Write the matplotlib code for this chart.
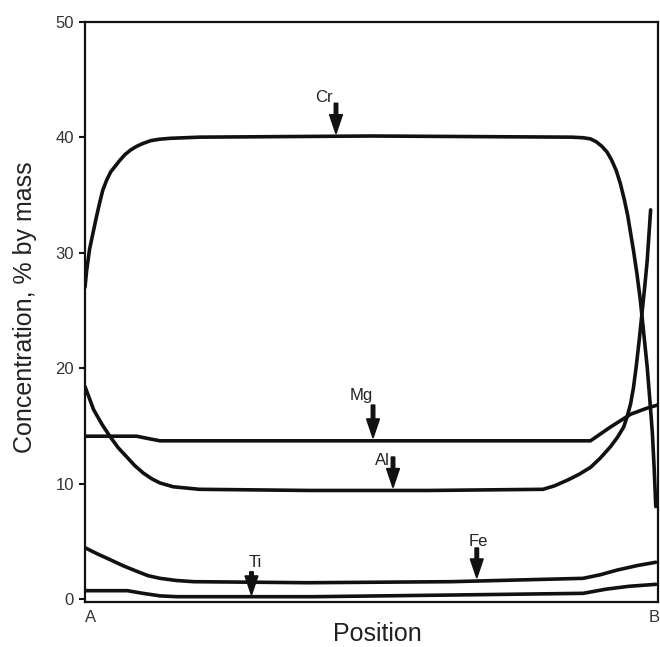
import matplotlib
matplotlib.use("Agg")
import matplotlib.pyplot as plt

plt.rcParams['font.family'] = ['Liberation Sans', 'DejaVu Sans']

# Position from A (0) to B (1); concentrations in % by mass
cr_x = [0.0, 0.003, 0.008, 0.014, 0.02, 0.026, 0.031, 0.038, 0.045, 0.053, 0.061, 0.07, 0.08,
        0.09, 0.101, 0.115, 0.13, 0.149, 0.2, 0.5, 0.85, 0.87, 0.883, 0.893, 0.903, 0.912,
        0.92, 0.928, 0.935, 0.942, 0.948, 0.953, 0.958, 0.964, 0.970, 0.976, 0.982, 0.987,
        0.991, 0.994, 0.997]
cr_y = [27.0, 28.5, 30.3, 31.7, 33.1, 34.4, 35.4, 36.3, 37.0, 37.5, 38.0, 38.5, 38.9,
        39.2, 39.45, 39.7, 39.82, 39.9, 40.0, 40.1, 40.0, 39.95, 39.85, 39.6, 39.2, 38.7,
        38.0, 37.1, 36.0, 34.6, 33.2, 31.7, 30.2, 28.2, 25.9, 23.0, 20.1, 17.0,
        14.4, 11.5, 8.0]

mg_x = [0.0, 0.09, 0.11, 0.131, 0.5, 0.883, 0.918, 0.953, 0.98, 1.0]
mg_y = [14.1, 14.1, 13.9, 13.7, 13.7, 13.7, 14.9, 16.0, 16.5, 16.8]

al_x = [0.0, 0.015, 0.03, 0.044, 0.058, 0.073, 0.087, 0.102, 0.117, 0.131, 0.154, 0.2, 0.393,
        0.6, 0.80, 0.82, 0.843, 0.863, 0.883, 0.90, 0.918, 0.93, 0.941, 0.947, 0.953,
        0.958, 0.963, 0.968, 0.973, 0.978, 0.982, 0.988]
al_y = [18.4, 16.4, 15.1, 14.05, 13.1, 12.3, 11.55, 10.9, 10.4, 10.05, 9.72, 9.5, 9.4,
        9.4, 9.5, 9.8, 10.3, 10.8, 11.4, 12.2, 13.2, 14.0, 14.9, 15.8, 16.9,
        18.3, 20.2, 22.4, 24.8, 27.2, 29.3, 33.7]

fe_x = [0.0, 0.022, 0.045, 0.068, 0.092, 0.11, 0.131, 0.16, 0.19, 0.39, 0.64, 0.87, 0.90,
        0.93, 0.965, 0.997]
fe_y = [4.44, 3.9, 3.38, 2.85, 2.37, 2.02, 1.79, 1.6, 1.5, 1.41, 1.5, 1.79, 2.1,
        2.51, 2.9, 3.18]

ti_x = [0.0, 0.074, 0.1, 0.131, 0.16, 0.4, 0.65, 0.87, 0.91, 0.95, 0.997]
ti_y = [0.72, 0.72, 0.5, 0.27, 0.2, 0.2, 0.35, 0.49, 0.85, 1.1, 1.27]

y_ticks = [0, 10, 20, 30, 40, 50]
x_tick_labels = ['A', 'B']

# Annotation layout: name -> (text x, text y, arrow x, arrow top, arrow tip)
labels = {
    'Cr': (0.4166, 43.46, 0.4384, 42.94, 40.3),
    'Mg': (0.4821, 17.66, 0.5031, 16.8, 13.95),
    'Al': (0.5197, 12.03, 0.538, 12.3, 9.65),
    'Ti': (0.297, 3.12, 0.2908, 2.36, 0.35),
    'Fe': (0.6865, 4.96, 0.6843, 4.42, 1.82),
}

fig = plt.figure(figsize=(6.6, 6.47), dpi=100)
ax = fig.add_axes([85 / 660, 1 - 602 / 647, 572.5 / 660, (602 - 21.7) / 647])

line_kw = dict(color='#111111', lw=2.6, solid_joinstyle='round', solid_capstyle='round')
for xs, ys in [(cr_x, cr_y), (mg_x, mg_y), (al_x, al_y), (fe_x, fe_y), (ti_x, ti_y)]:
    ax.plot(xs, ys, **line_kw)

for name, (tx, ty, axx, atop, atip) in labels.items():
    ax.text(tx, ty, name, fontsize=12, color='#222222', ha='center', va='center')
    ax.arrow(axx, atop, 0, atip - atop, width=0.0062, head_width=0.0225,
             head_length=1.65, length_includes_head=True, fc='#111111', ec='#111111')

ax.set_xlim(0, 1)
ax.set_ylim(-0.26, 50)
ax.set_yticks(y_ticks)
ax.set_yticklabels([str(t) for t in y_ticks])
ax.set_xticks([0.0105, 0.995])
ax.set_xticklabels(x_tick_labels)
ax.tick_params(axis='y', direction='out', length=4, width=1.5, pad=4,
               labelsize=12, labelcolor='#333333', color='#111111')
ax.tick_params(axis='x', length=0, pad=6, labelsize=12, labelcolor='#333333')
for sp in ax.spines.values():
    sp.set_linewidth(1.6)
    sp.set_color('#111111')

ax.set_xlabel('Position', fontsize=18, color='#222222')
ax.xaxis.set_label_coords((377.5 - 85) / 572.5, -0.034)
ax.set_ylabel('Concentration, % by mass', fontsize=18, color='#222222')
ax.yaxis.set_label_coords(-0.084, (602 - 307) / 580.3)

fig.savefig('out.png', dpi=100)
